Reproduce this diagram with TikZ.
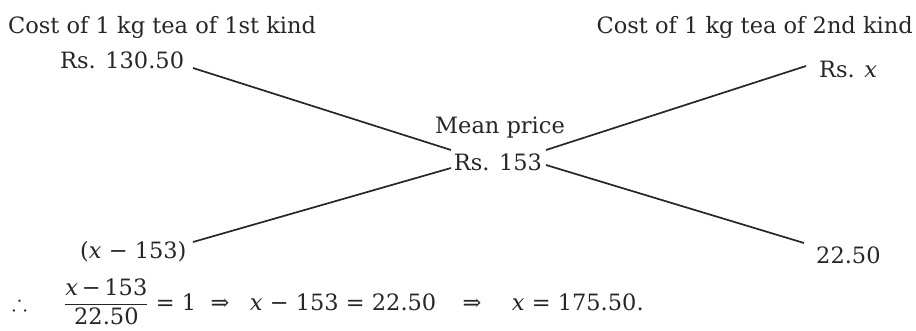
\documentclass[tikz,border=0pt]{standalone}
\usepackage{amsmath,amssymb}
\usepackage{fontspec}
\setmainfont{DejaVu Serif}
\newcommand{\vx}{\textit{x}}
\begin{document}
\begin{tikzpicture}[x=1pt,y=-1pt,
  every node/.style={font=\fontsize{22.5}{27}\selectfont, inner sep=0pt, text=black!85},
  lbl/.style={anchor=base west},
  lblr/.style={anchor=base east},
  lblc/.style={anchor=base},
  conn/.style={line width=1.7pt, draw=black!85}]
\useasboundingbox (0,0) rectangle (916,330);
% headings
\node[lbl]  (h1) at (8,33)  {Cost of 1 kg tea of 1st kind};
\node[lblr] (h2) at (913,33) {Cost of 1 kg tea of 2nd kind};
% prices
\node[lbl]  (r1) at (60,68)  {Rs. 130.50};
\node[lbl]  (r2) at (819,77) {Rs. \vx};
\node[lblc] (mp) at (500,133) {Mean price};
\node[lblc] (mean) at (498,170) {Rs. 153};
\node[lbl]  (d1) at (80,258) {(\vx\ − 153)};
\node[lbl]  (d2) at (816,263) {22.50};
% connector end points
\coordinate (a1) at (193,68);
\coordinate (a2) at (451,150);
\coordinate (b1) at (546,165);
\coordinate (b2) at (804,243);
\coordinate (c1) at (193,242);
\coordinate (c2) at (451,168);
\coordinate (e1) at (546,150);
\coordinate (e2) at (806,66);
\draw[conn] (a1) -- (a2);
\draw[conn] (b1) -- (b2);
\draw[conn] (c1) -- (c2);
\draw[conn] (e1) -- (e2);
% equation
\node[lbl] (th) at (12,310) {$\therefore$};
\node[lbl] (fr) at (64,310) {$\dfrac{\text{\vx\,−\,153}}{\text{22.50}}$};
\node[lbl] (q1) at ([xshift=7pt]fr.base east) {= 1};
\node[lbl] (i1) at ([xshift=14pt]q1.base east) {⇒};
\node[lbl] (q2) at ([xshift=20pt]i1.base east) {\vx\ − 153 = 22.50};
\node[lbl] (i2) at ([xshift=26pt]q2.base east) {⇒};
\node[lbl] (q3) at ([xshift=30pt]i2.base east) {\vx\ = 175.50.};
\end{tikzpicture}
\end{document}
